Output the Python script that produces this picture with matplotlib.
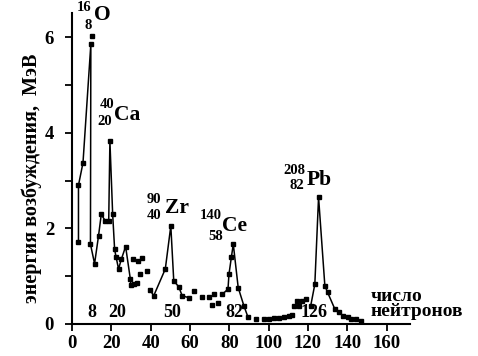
import numpy as np
import matplotlib
matplotlib.use('Agg')
import matplotlib.pyplot as plt

plt.rcParams['font.family'] = 'Liberation Serif'
plt.rcParams['font.weight'] = 'bold'

# connected pieces of the curve (neutron number, excitation energy MeV)
seg1_n = [3.2, 3.2, 5.5, 9.5, 9.3, 11.4, 13.4, 14.8, 16.8, 18.6, 19.2, 20.6,
          21.6, 22.3, 23.6, 25.0, 27.2, 29.6, 29.9, 31.6, 33.0]
seg1_e = [1.72, 2.90, 3.37, 5.85, 1.67, 1.26, 1.84, 2.29, 2.16, 2.16, 3.83, 2.30,
          1.56, 1.41, 1.15, 1.35, 1.62, 0.94, 0.81, 0.83, 0.85]
seg2_n = [39.8, 41.5, 47.4, 50.2, 51.7, 54.2, 56.0, 59.3]
seg2_e = [0.70, 0.59, 1.15, 2.05, 0.90, 0.78, 0.59, 0.55]
seg3_n = [76.4, 79.3, 79.8, 81.0, 82.0, 84.5, 87.4, 89.5]
seg3_e = [0.62, 0.73, 1.04, 1.39, 1.67, 0.76, 0.38, 0.14]
seg4_n = [121.4, 123.5, 125.4, 128.6, 130.0, 133.7]
seg4_e = [0.38, 0.83, 2.65, 0.80, 0.66, 0.31]

# loose points
pts_n = [10.3, 31.0, 33.5, 35.5, 34.7, 38.1,
         61.9, 66.2, 69.6, 72.4, 71.3, 74.2,
         93.4, 97.6, 100.2, 102.7, 105.3, 107.8, 110.4, 112.1,
         113.0, 115.5, 114.6, 117.2, 118.9,
         135.9, 137.6, 140.2, 141.8, 144.4, 146.9]
pts_e = [6.02, 1.35, 1.32, 1.37, 1.04, 1.11,
         0.68, 0.56, 0.57, 0.62, 0.40, 0.43,
         0.10, 0.10, 0.10, 0.12, 0.12, 0.14, 0.17, 0.19,
         0.38, 0.38, 0.49, 0.49, 0.52,
         0.24, 0.17, 0.14, 0.10, 0.10, 0.07]

# nuclei labels: mass, charge, symbol
nuc_A = ['16', '40', '90', '140', '208']
nuc_Z = ['8', '20', '40', '58', '82']
nuc_sym = ['O', 'Ca', 'Zr', 'Ce', 'Pb']
magic = ['8', '20', '50', '82', '126']

fig = plt.figure(figsize=(4.78, 3.56), dpi=100)
ax = fig.add_axes([0.151, 0.09, 0.707, 0.873])

for xs, ys in [(seg1_n, seg1_e), (seg2_n, seg2_e), (seg3_n, seg3_e), (seg4_n, seg4_e)]:
    ax.plot(xs, ys, '-s', color='black', lw=1.1, ms=3.3)
ax.plot(pts_n, pts_e, 's', color='black', ms=3.3, ls='none')

ax.set_xlim(0, 172)
ax.set_ylim(0, 6.5)
ax.spines['top'].set_visible(False)
ax.spines['right'].set_visible(False)
ax.spines['left'].set_linewidth(1.5)
ax.spines['bottom'].set_linewidth(1.5)
ax.set_xticks(np.arange(0, 161, 20))
ax.set_yticks(np.arange(0, 7, 1))
ax.set_yticklabels(['0', '', '2', '', '4', '', '6'])
ax.tick_params(direction='out', length=5, width=1.3, labelsize=13.5)
ax.tick_params(axis='x', pad=3)
ax.tick_params(axis='y', pad=8)

ax.set_ylabel('энергия возбуждения,  МэВ', fontsize=14.5, fontweight='bold')
ax.yaxis.set_label_coords(-0.09, 0.47)
ax.text(152, 0.42, 'число\nнейтронов', fontsize=14, fontweight='bold',
        ha='left', va='center', linespacing=0.8)

# element labels
A_pos = [(5.9, 6.62), (17.7, 4.6), (41.5, 2.6), (70.4, 2.26), (112.9, 3.2)]
Z_pos = [(8.2, 6.24), (16.8, 4.24), (41.5, 2.26), (73.0, 1.82), (114.6, 2.9)]
S_pos = [(15.3, 6.46), (27.9, 4.38), (53.4, 2.43), (82.7, 2.05), (125.7, 3.02)]
for a, z, s, pa, pz, ps in zip(nuc_A, nuc_Z, nuc_sym, A_pos, Z_pos, S_pos):
    ax.text(pa[0], pa[1], a, fontsize=10.5, fontweight='bold', ha='center', va='center')
    ax.text(pz[0], pz[1], z, fontsize=10.5, fontweight='bold', ha='center', va='center')
    ax.text(ps[0], ps[1], s, fontsize=15.5, fontweight='bold', ha='center', va='center')

magic_pos = [10.0, 22.8, 50.9, 82.3, 123.1]
for m, xm in zip(magic, magic_pos):
    ax.text(xm, 0.24, m, fontsize=13, fontweight='bold', ha='center', va='center')

fig.savefig('out.png', dpi=100)
